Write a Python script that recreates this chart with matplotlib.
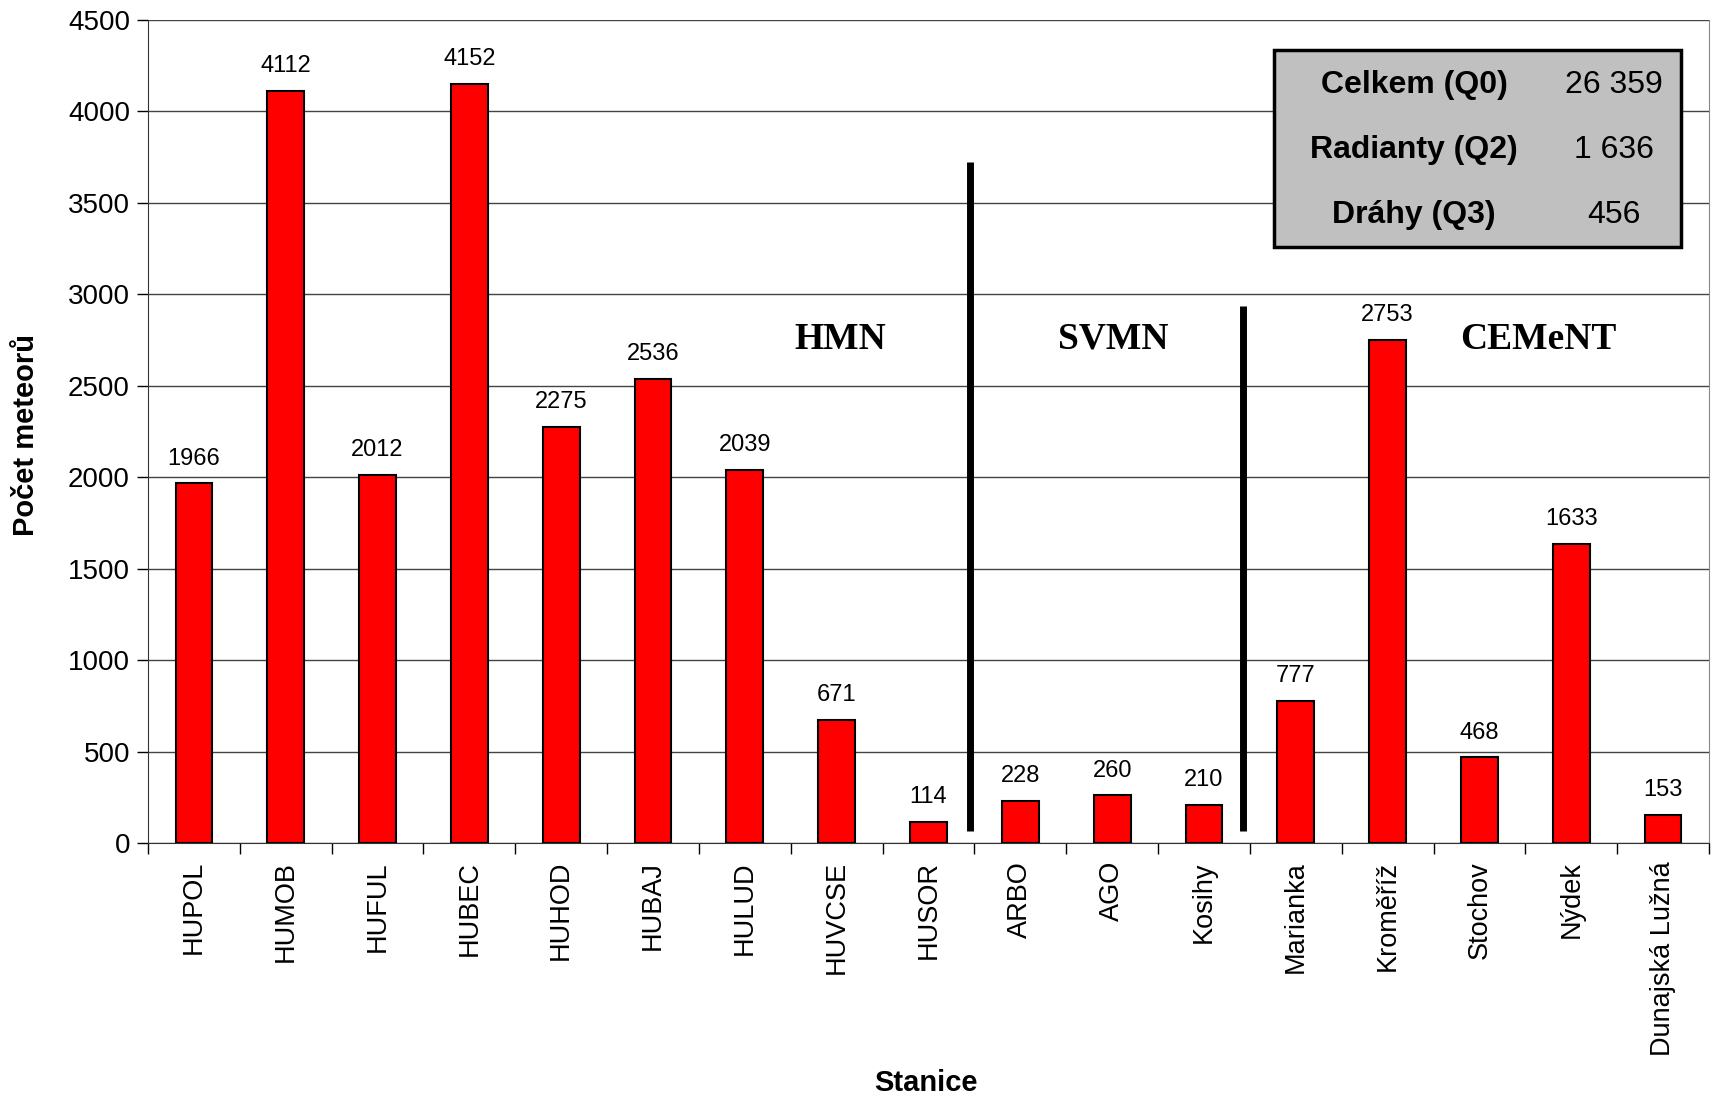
import matplotlib
matplotlib.use("Agg")
import matplotlib.pyplot as plt
from matplotlib.patches import Rectangle
import numpy as np

stations = ["HUPOL", "HUMOB", "HUFUL", "HUBEC", "HUHOD", "HUBAJ", "HULUD", "HUVCSE",
            "HUSOR", "ARBO", "AGO", "Kosihy", "Marianka", "Kroměříž", "Stochov",
            "Nýdek", "Dunajská Lužná"]
counts = [1966, 4112, 2012, 4152, 2275, 2536, 2039, 671, 114, 228, 260, 210,
          777, 2753, 468, 1633, 153]
networks = ["HMN", "SVMN", "CEMeNT"]
summary_labels = ["Celkem (Q0)", "Radianty (Q2)", "Dráhy (Q3)"]
summary_values = ["26 359", "1 636", "456"]

plt.rcParams["font.family"] = ["Liberation Sans", "DejaVu Sans"]

W, H = 1715, 1096
fig = plt.figure(figsize=(W / 100, H / 100), dpi=100)
ax = fig.add_axes([148 / W, 1 - 843 / H, (1709 - 148) / W, (843 - 20) / H])

x = np.arange(len(stations))
ax.bar(x, counts, width=0.40, color="#FF0000", edgecolor="black", linewidth=1.5, zorder=3)

for xi, v in zip(x, counts):
    ax.annotate(str(v), (xi, v), xytext=(0, 10), textcoords="offset points",
                ha="center", va="bottom", fontsize=17, zorder=4)

ax.set_xlim(-0.5, len(stations) - 0.5)
ax.set_ylim(0, 4500)
ax.set_yticks(np.arange(0, 4501, 500))
ax.tick_params(axis="y", labelsize=20, length=8, width=1, pad=5, direction="out")
ax.yaxis.grid(True, color="#444444", linewidth=1, zorder=0)
ax.set_axisbelow(True)

ax.set_xticks(x)
ax.set_xticklabels(stations, rotation=90, fontsize=19.5, va="top")
ax.tick_params(axis="x", which="major", length=0, pad=13)
ax.set_xticks(np.arange(-0.5, len(stations), 1.0), minor=True)
ax.tick_params(axis="x", which="minor", length=8, width=1, direction="out")

ax.spines["top"].set_visible(False)
ax.spines["right"].set_color("#888888")
ax.spines["left"].set_color("#333333")
ax.spines["bottom"].set_color("#333333")

# network separators
ax.plot([8.45, 8.45], [66, 3723], color="black", linewidth=5, zorder=4, solid_capstyle="butt")
ax.plot([11.42, 11.42], [66, 2934], color="black", linewidth=5, zorder=4, solid_capstyle="butt")

serif = ["Liberation Serif", "DejaVu Serif"]
for name, xp in zip(networks, [7.04, 10.01, 14.64]):
    ax.text(xp, 2755, name, ha="center", va="center", fontsize=27,
            fontweight="bold", family=serif, zorder=5)

# summary box
bx0, by0, bx1, by1 = 1274, 50, 1681, 247
fig.patches.append(Rectangle((bx0 / W, 1 - by1 / H), (bx1 - bx0) / W, (by1 - by0) / H,
                             transform=fig.transFigure, facecolor="#C0C0C0",
                             edgecolor="black", linewidth=2.5, zorder=10))
for lbl, val, py in zip(summary_labels, summary_values, [85, 150, 215]):
    fig.text(1414 / W, 1 - py / H, lbl, ha="center", va="center", fontsize=23,
             fontweight="bold", zorder=11)
    fig.text(1614 / W, 1 - py / H, val, ha="center", va="center", fontsize=23, zorder=11)

fig.text(26 / W, 1 - 435 / H, "Počet meteorů", rotation=90, ha="center", va="center",
         fontsize=21, fontweight="bold")
fig.text(926 / W, 1 - 1083 / H, "Stanice", ha="center", va="center",
         fontsize=21, fontweight="bold")

fig.savefig("out.png", dpi=100)
